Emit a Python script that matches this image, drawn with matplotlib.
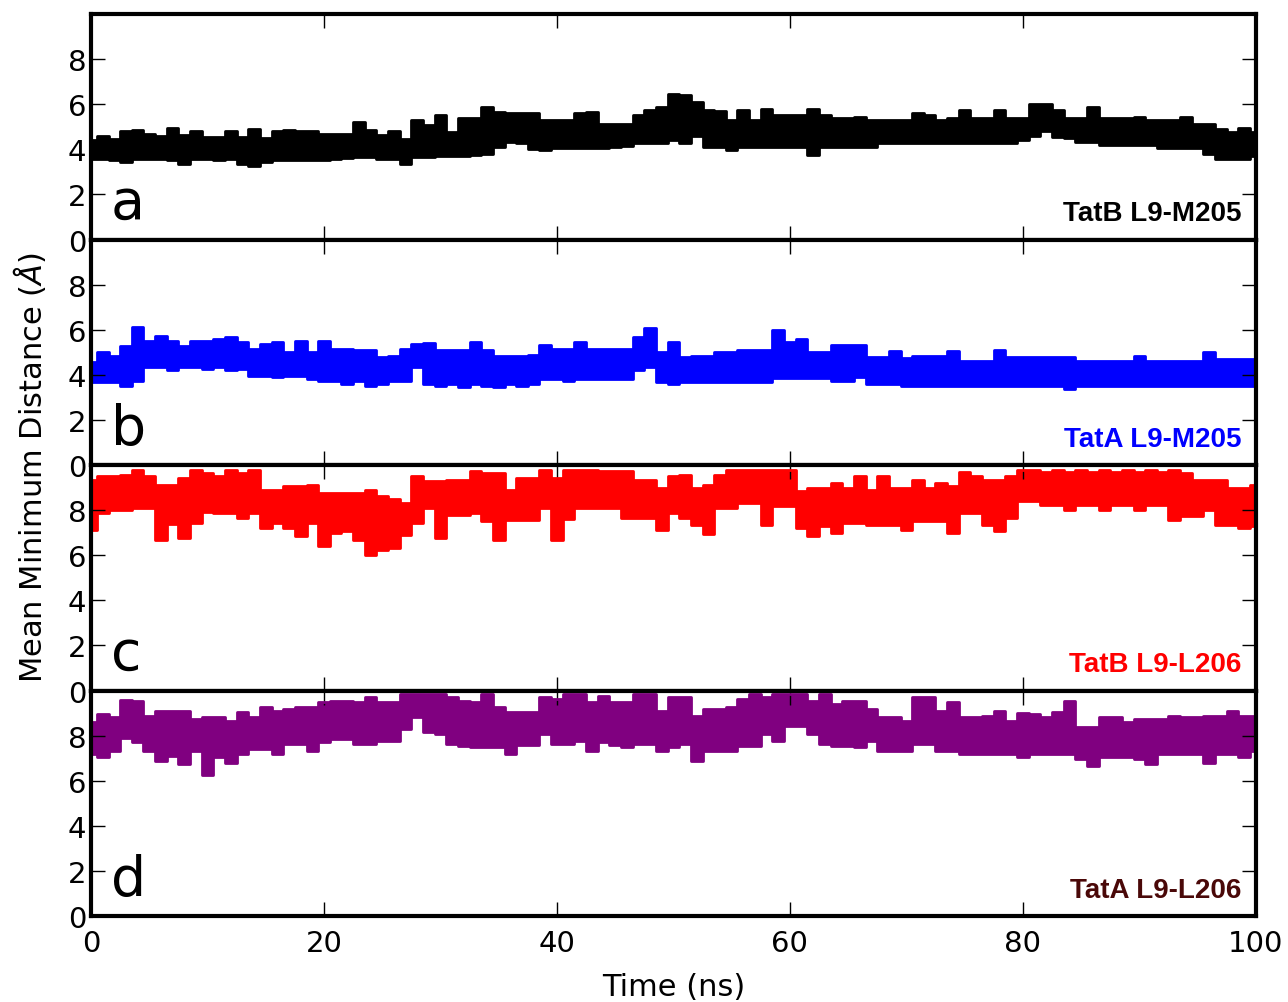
import numpy as np
import matplotlib.pyplot as plt

# time grid (ns), one upper / lower reading per ns of the noisy trace
time_ns = np.arange(0, 101)

tatb_m205_hi = [4.41, 4.6, 4.48, 4.8, 4.85, 4.66, 4.6, 4.95, 4.63, 4.8,
                4.55, 4.55, 4.8, 4.55, 4.9, 4.51, 4.8, 4.85, 4.8, 4.8,
                4.7, 4.7, 4.7, 5.22, 4.85, 4.63, 4.8, 4.48, 5.29, 5.07,
                5.54, 4.77, 5.37, 5.37, 5.88, 5.66, 5.59, 5.59, 5.59, 5.29,
                5.29, 5.29, 5.59, 5.66, 5.14, 5.14, 5.14, 5.51, 5.74, 5.88,
                6.47, 6.43, 6.1, 5.74, 5.7, 5.3, 5.74, 5.3, 5.78, 5.51,
                5.51, 5.51, 5.78, 5.51, 5.37, 5.37, 5.44, 5.29, 5.29, 5.29,
                5.29, 5.59, 5.51, 5.29, 5.37, 5.74, 5.37, 5.37, 5.74, 5.37,
                5.37, 5.99, 5.99, 5.74, 5.37, 5.37, 5.88, 5.37, 5.37, 5.37,
                5.44, 5.29, 5.29, 5.29, 5.44, 5.14, 5.14, 4.92, 4.77, 4.95,
                4.77]
tatb_m205_lo = [3.56, 3.56, 3.52, 3.44, 3.56, 3.56, 3.56, 3.52, 3.37, 3.56,
                3.56, 3.52, 3.56, 3.37, 3.27, 3.44, 3.52, 3.52, 3.52, 3.52,
                3.52, 3.56, 3.6, 3.67, 3.67, 3.59, 3.59, 3.37, 3.67, 3.67,
                3.71, 3.71, 3.71, 3.75, 3.81, 4.11, 4.33, 4.3, 4.0, 3.96,
                4.04, 4.04, 4.04, 4.04, 4.04, 4.11, 4.15, 4.26, 4.26, 4.3,
                4.41, 4.26, 4.6, 4.11, 4.11, 3.96, 4.11, 4.11, 4.11, 4.11,
                4.11, 4.11, 3.74, 4.11, 4.11, 4.11, 4.11, 4.11, 4.26, 4.26,
                4.26, 4.26, 4.26, 4.26, 4.26, 4.26, 4.26, 4.26, 4.26, 4.26,
                4.41, 4.6, 4.8, 4.55, 4.5, 4.33, 4.33, 4.18, 4.18, 4.18,
                4.18, 4.18, 4.04, 4.04, 4.04, 4.04, 3.81, 3.59, 3.59, 3.59,
                3.7]

tata_m205_hi = [4.55, 5.0, 4.85, 5.29, 6.11, 5.51, 5.74, 5.51, 5.29, 5.51,
                5.51, 5.59, 5.66, 5.44, 5.15, 5.37, 5.44, 5.0, 5.51, 5.0,
                5.51, 5.15, 5.15, 5.08, 5.08, 4.78, 4.85, 5.15, 5.37, 5.4,
                5.08, 5.08, 5.08, 5.44, 5.08, 4.85, 4.85, 4.85, 4.9, 5.32,
                5.15, 5.15, 5.47, 5.15, 5.15, 5.15, 5.15, 5.66, 6.06, 5.0,
                5.44, 4.78, 4.85, 4.85, 5.0, 5.0, 5.08, 5.08, 5.08, 6.0,
                5.44, 5.59, 5.0, 5.0, 5.33, 5.33, 5.33, 4.78, 4.78, 5.07,
                4.73, 4.85, 4.85, 4.85, 5.07, 4.63, 4.63, 4.63, 5.12, 4.78,
                4.78, 4.78, 4.78, 4.78, 4.78, 4.63, 4.63, 4.63, 4.63, 4.63,
                4.85, 4.6, 4.6, 4.6, 4.6, 4.6, 5.0, 4.7, 4.7, 4.7,
                4.7]
tata_m205_lo = [3.67, 3.67, 3.67, 3.52, 3.74, 4.33, 4.33, 4.2, 4.33, 4.33,
                4.26, 4.33, 4.2, 4.26, 3.96, 3.96, 3.9, 3.96, 3.96, 3.82,
                3.74, 3.74, 3.6, 3.74, 3.52, 3.6, 3.74, 3.74, 4.33, 3.6,
                3.52, 3.6, 3.45, 3.6, 3.52, 3.45, 3.6, 3.52, 3.6, 3.82,
                3.82, 3.74, 3.82, 3.82, 3.82, 3.82, 3.82, 4.2, 4.33, 3.67,
                3.6, 3.67, 3.67, 3.67, 3.67, 3.67, 3.67, 3.67, 3.67, 3.85,
                3.85, 3.85, 3.85, 3.85, 3.74, 3.74, 3.9, 3.6, 3.6, 3.6,
                3.52, 3.52, 3.52, 3.52, 3.52, 3.52, 3.52, 3.52, 3.52, 3.52,
                3.52, 3.52, 3.52, 3.52, 3.37, 3.52, 3.52, 3.52, 3.52, 3.52,
                3.52, 3.52, 3.52, 3.52, 3.52, 3.52, 3.52, 3.52, 3.52, 3.52,
                3.52]

tatb_l206_hi = [9.35, 9.5, 9.5, 9.58, 9.8, 9.5, 9.13, 9.13, 9.43, 9.8,
                9.65, 9.5, 9.8, 9.65, 9.8, 8.91, 8.91, 9.06, 9.06, 9.13,
                8.76, 8.76, 8.76, 8.76, 8.91, 8.61, 8.5, 8.32, 9.5, 9.28,
                9.28, 9.35, 9.35, 9.72, 9.65, 9.65, 8.91, 9.43, 9.43, 9.8,
                9.43, 9.8, 9.8, 9.8, 9.72, 9.72, 9.72, 9.35, 9.35, 9.0,
                9.5, 9.58, 8.98, 9.13, 9.58, 9.8, 9.8, 9.8, 9.8, 9.8,
                9.8, 8.84, 8.98, 8.98, 9.2, 8.98, 9.5, 8.91, 9.5, 8.98,
                8.98, 9.35, 8.98, 9.2, 9.06, 9.68, 9.5, 9.35, 9.35, 9.5,
                9.8, 9.8, 9.7, 9.8, 9.7, 9.8, 9.7, 9.8, 9.7, 9.8,
                9.7, 9.8, 9.7, 9.8, 9.65, 9.35, 9.35, 9.35, 8.98, 8.98,
                9.13]
tatb_l206_lo = [7.14, 7.87, 8.0, 8.02, 8.1, 8.1, 6.69, 7.4, 6.75, 7.43,
                7.9, 7.87, 7.87, 7.65, 7.87, 7.2, 7.43, 7.2, 6.84, 7.43,
                6.4, 7.0, 7.06, 6.69, 6.03, 6.25, 6.3, 6.9, 7.43, 8.1,
                6.78, 7.8, 7.8, 7.87, 7.5, 6.69, 7.58, 7.58, 7.58, 8.1,
                6.69, 7.6, 8.1, 8.1, 8.1, 8.1, 7.65, 7.65, 7.65, 7.14,
                7.87, 7.65, 7.36, 6.92, 8.1, 8.1, 8.32, 8.32, 7.36, 8.17,
                8.17, 7.2, 6.84, 7.28, 6.99, 7.43, 7.43, 7.36, 7.36, 7.36,
                7.14, 7.5, 7.5, 7.5, 6.99, 7.87, 7.87, 7.36, 7.06, 7.65,
                8.39, 8.39, 8.24, 8.24, 8.0, 8.24, 8.24, 8.02, 8.24, 8.24,
                8.02, 8.24, 8.24, 7.58, 7.73, 7.73, 8.02, 7.36, 7.36, 7.2,
                7.3]

tata_l206_hi = [8.59, 8.96, 8.81, 9.6, 9.55, 8.88, 9.11, 9.11, 9.11, 8.74,
                8.81, 8.81, 8.66, 9.04, 8.81, 9.25, 9.11, 9.18, 9.25, 9.25,
                9.47, 9.55, 9.55, 9.5, 9.7, 9.47, 9.47, 9.85, 9.85, 9.85,
                9.85, 9.7, 9.55, 9.47, 9.85, 9.25, 9.04, 9.04, 9.04, 9.7,
                9.62, 9.85, 9.85, 9.47, 9.77, 9.47, 9.47, 9.85, 9.85, 9.11,
                9.7, 9.7, 8.88, 9.18, 9.18, 9.25, 9.62, 9.85, 9.7, 9.85,
                9.85, 9.85, 9.55, 9.85, 9.4, 9.55, 9.55, 9.18, 8.81, 8.81,
                8.66, 9.7, 9.7, 9.11, 9.47, 8.81, 8.81, 8.88, 9.11, 8.66,
                9.0, 8.96, 8.81, 9.04, 9.55, 8.37, 8.37, 8.81, 8.81, 8.59,
                8.74, 8.74, 8.74, 8.88, 8.81, 8.81, 8.88, 8.88, 9.11, 8.88,
                8.88]
tata_l206_lo = [7.19, 7.04, 7.33, 7.9, 7.7, 7.33, 6.89, 7.1, 6.74, 7.33,
                6.27, 7.04, 6.78, 7.19, 7.4, 7.4, 7.19, 7.63, 7.63, 7.33,
                7.7, 7.85, 7.85, 7.63, 7.63, 7.78, 7.78, 8.3, 8.81, 8.15,
                8.07, 7.63, 7.56, 7.48, 7.48, 7.48, 7.19, 7.6, 7.6, 8.07,
                7.63, 7.63, 7.78, 7.33, 7.7, 7.6, 7.48, 7.63, 7.63, 7.33,
                7.5, 7.63, 6.89, 7.33, 7.33, 7.33, 7.56, 7.56, 8.07, 7.78,
                8.44, 8.44, 8.07, 7.63, 7.56, 7.56, 7.48, 7.78, 7.33, 7.33,
                7.33, 7.63, 7.63, 7.33, 7.33, 7.19, 7.19, 7.19, 7.19, 7.19,
                7.04, 7.19, 7.19, 7.19, 7.19, 6.96, 6.67, 7.04, 7.04, 7.04,
                6.96, 6.74, 7.19, 7.19, 7.19, 7.19, 6.8, 7.19, 7.19, 7.04,
                7.33]

panels = [
    ("a", "TatB L9-M205", tatb_m205_hi, tatb_m205_lo, "black", "black"),
    ("b", "TatA L9-M205", tata_m205_hi, tata_m205_lo, "#0000ff", "#0000ff"),
    ("c", "TatB L9-L206", tatb_l206_hi, tatb_l206_lo, "#ff0000", "#ff0000"),
    ("d", "TatA L9-L206", tata_l206_hi, tata_l206_lo, "#800080", "#4a0808"),
]

fig, axes = plt.subplots(4, 1, sharex=True, figsize=(12.88, 10.03), dpi=100)
fig.subplots_adjust(left=0.0707, right=0.975, top=0.985, bottom=0.0857, hspace=0)

for ax, (letter, name, hi, lo, col, tcol) in zip(axes, panels):
    # the trace is dense enough that it reads as a band with spiky edges
    ax.fill_between(time_ns, lo, hi, step="mid", color=col, lw=0)
    ax.plot(time_ns, hi, color=col, lw=2, drawstyle="steps-mid",
            solid_joinstyle="round")
    ax.plot(time_ns, lo, color=col, lw=2, drawstyle="steps-mid",
            solid_joinstyle="round")
    ax.set_xlim(0, 100)
    ax.set_ylim(0, 10)
    ax.set_yticks([0, 2, 4, 6, 8])
    ax.set_xticks([0, 20, 40, 60, 80, 100])
    ax.tick_params(direction="in", length=10, width=1, labelsize=21,
                   top=True, right=True)
    ax.tick_params(axis="x", pad=9)
    for sp in ax.spines.values():
        sp.set_linewidth(3)
    ax.text(0.017, 0.095, letter, transform=ax.transAxes, fontsize=40,
            va="baseline", ha="left")
    ax.text(0.988, 0.085, name, transform=ax.transAxes, fontsize=20,
            fontweight="bold", family="Liberation Sans", color=tcol,
            ha="right", va="baseline")

axes[-1].set_xlabel("Time (ns)", fontsize=22, labelpad=11)
fig.text(0.023, 0.534, r"Mean Minimum Distance ($\AA$)", rotation=90,
         fontsize=22, va="center", ha="center")

fig.savefig("out.png", dpi=100)
